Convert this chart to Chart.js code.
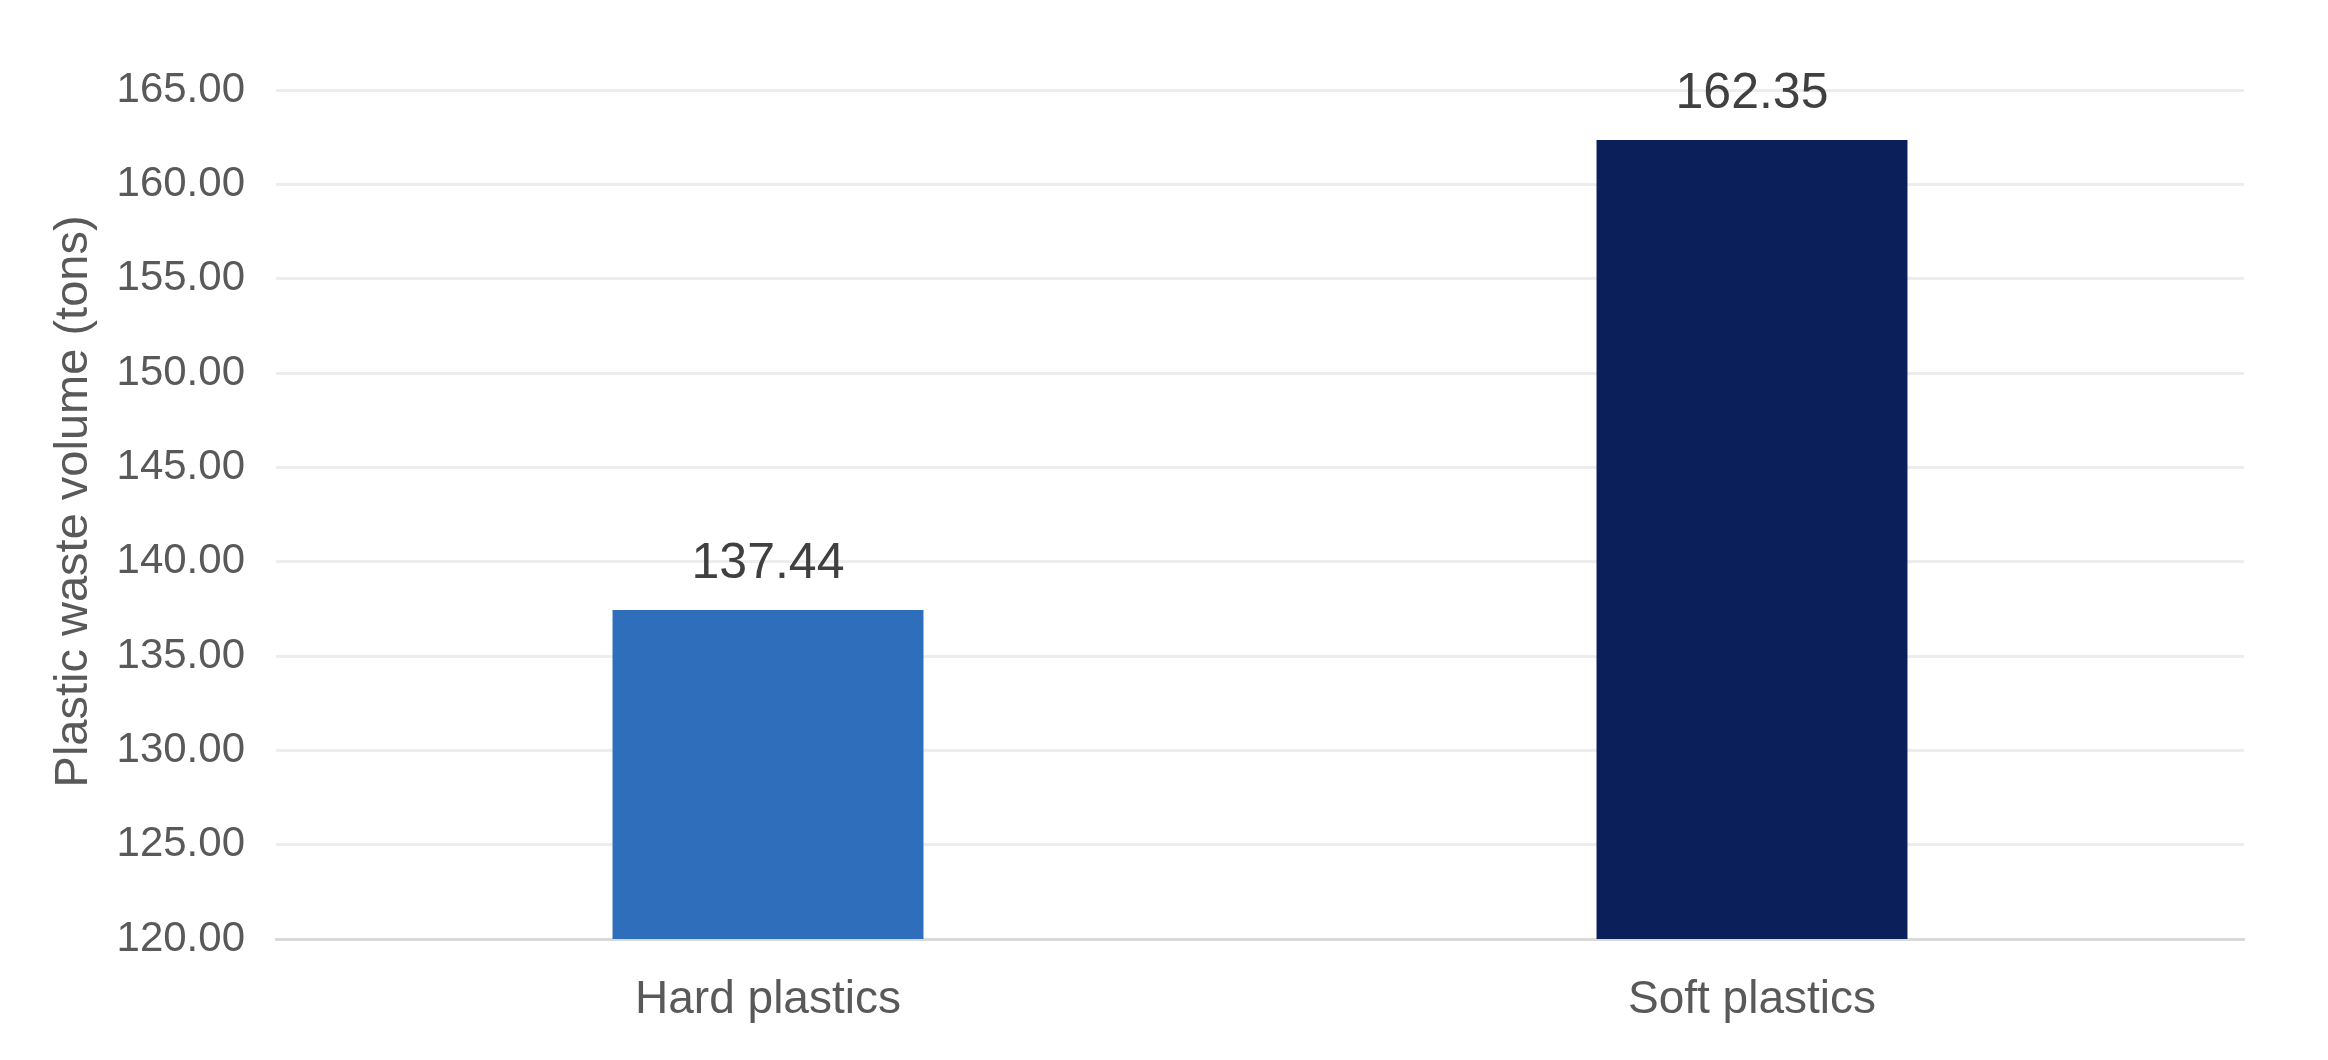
<!DOCTYPE html>
<html lang="en">
<head>
    <meta charset="UTF-8">
    <title>Plastic waste volume</title>
    <script src="https://cdn.jsdelivr.net/npm/chart.js"></script>
    <style>
        html, body { margin: 0; padding: 0; background: #fff; }
        #wrap { width: 2328px; height: 1060px; }
    </style>
</head>
<body>
    <div id="wrap"><canvas id="wasteChart" width="2328" height="1060"></canvas></div>

    <script>
        // chart data
        const categories = ['Hard plastics', 'Soft plastics'];
        const volumes = [137.44, 162.35];
        const barColors = ['#2E6EBB', '#0B1F5B'];
        const yTitle = 'Plastic waste volume (tons)';
        const yMin = 120, yMax = 165, yStep = 5;

        // draws the value above each bar
        const valueLabels = {
            id: 'valueLabels',
            afterDatasetsDraw(chart) {
                const ctx = chart.ctx;
                const meta = chart.getDatasetMeta(0);
                ctx.save();
                ctx.font = '50px "Liberation Sans", Arial, sans-serif';
                ctx.fillStyle = '#404040';
                ctx.textAlign = 'center';
                ctx.textBaseline = 'alphabetic';
                meta.data.forEach((bar, i) => {
                    ctx.fillText(volumes[i].toFixed(2), bar.x, bar.y - 32);
                });
                ctx.restore();
            }
        };

        const ctx = document.getElementById('wasteChart').getContext('2d');
        const wasteChart = new Chart(ctx, {
            type: 'bar',
            data: {
                labels: categories,
                datasets: [{
                    data: volumes,
                    backgroundColor: barColors,
                    categoryPercentage: 1,
                    barPercentage: 0.316
                }]
            },
            options: {
                responsive: false,
                animation: false,
                devicePixelRatio: 1,
                layout: { padding: { top: 90, right: 84, left: 0, bottom: 0 } },
                plugins: {
                    legend: { display: false },
                    tooltip: { enabled: false }
                },
                scales: {
                    x: {
                        grid: { display: false },
                        border: { color: '#D9D9D9', width: 3 },
                        ticks: {
                            color: '#595959',
                            padding: 26,
                            font: { family: '"Liberation Sans", Arial, sans-serif', size: 46 }
                        },
                        afterFit(scale) { scale.height = 121; }
                    },
                    y: {
                        min: yMin,
                        max: yMax,
                        grid: { color: '#EDEDED', lineWidth: 3, drawTicks: false },
                        border: { display: false },
                        ticks: {
                            stepSize: yStep,
                            color: '#595959',
                            padding: 31,
                            font: { family: '"Liberation Sans", Arial, sans-serif', size: 42 },
                            callback: v => v.toFixed(2)
                        },
                        title: {
                            display: true,
                            // leading spaces nudge the rotated title a little upward
                            text: '  ' + yTitle,
                            color: '#595959',
                            padding: { top: 46, bottom: 0 },
                            font: { family: '"Liberation Sans", Arial, sans-serif', size: 47 }
                        },
                        afterFit(scale) { scale.width = 276; }
                    }
                }
            },
            plugins: [valueLabels]
        });
    </script>
</body>
</html>
